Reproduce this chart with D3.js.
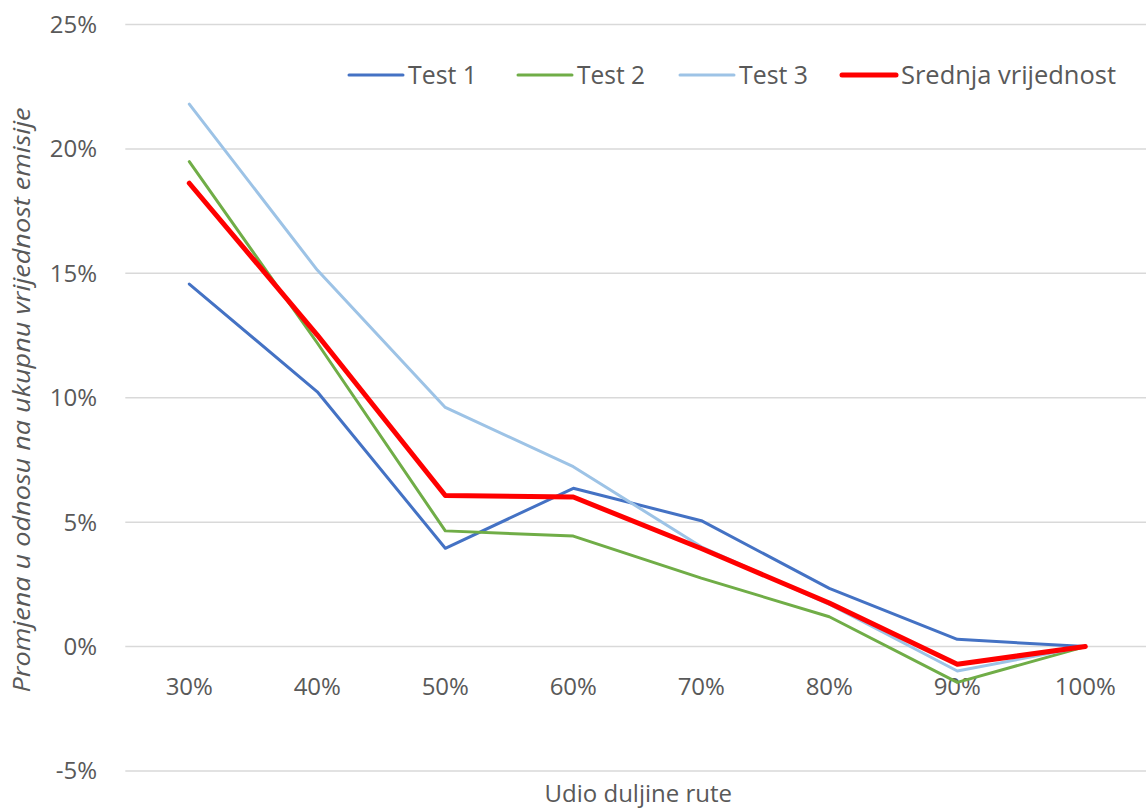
<!DOCTYPE html>
<html>
<head>
<meta charset="utf-8">
<script src="https://cdn.jsdelivr.net/npm/d3@7"></script>
<style>
  html, body { margin: 0; padding: 0; background: #fff; }
  svg { display: block; }
</style>
</head>
<body>
<div id="chart"></div>
<script>
// ---- data ----
const categories = ["30%", "40%", "50%", "60%", "70%", "80%", "90%", "100%"];
const test1 = [14.57, 10.24, 3.95, 6.36, 5.06, 2.34, 0.29, 0];
const test2 = [19.49, 12.2, 4.65, 4.44, 2.75, 1.2, -1.44, 0];
const test3 = [21.8, 15.13, 9.61, 7.23, 4.01, 1.7, -0.98, 0];
const mean  = [18.62, 12.52, 6.07, 6.01, 3.94, 1.75, -0.71, 0];
const seriesNames = ["Test 1", "Test 2", "Test 3", "Srednja vrijednost"];
const yTicks = [-5, 0, 5, 10, 15, 20, 25];
const xTitle = "Udio duljine rute";
const yTitle = "Promjena u odnosu na ukupnu vrijednost emisije";

// ---- styling ----
const W = 1146, H = 809;
const colors = ["#4472C4", "#70AD47", "#9DC3E6", "#FF0000"];
const widths = [3, 3, 3, 5];

const svg = d3.select("#chart").append("svg")
  .attr("width", W).attr("height", H);

const x = d3.scaleBand().domain(categories).range([125.3, 1149.3]);
const y = d3.scaleLinear().domain([-5, 25]).range([771, 24.5]);
const cx = c => x(c) + x.bandwidth() / 2;

// gridlines
svg.append("g").selectAll("line").data(yTicks).join("line")
  .attr("x1", x.range()[0]).attr("x2", x.range()[1])
  .attr("y1", d => y(d)).attr("y2", d => y(d))
  .attr("stroke", "#D9D9D9").attr("stroke-width", 1.5);

// y tick labels
svg.append("g").selectAll("text").data(yTicks).join("text")
  .attr("x", 97).attr("y", d => y(d))
  .attr("dy", "0.35em")
  .attr("text-anchor", "end")
  .attr("font-family", "'Open Sans', sans-serif")
  .attr("font-size", 24)
  .attr("fill", "#595959")
  .text(d => d + "%");

// x tick labels
svg.append("g").selectAll("text").data(categories).join("text")
  .attr("x", d => cx(d)).attr("y", 695)
  .attr("text-anchor", "middle")
  .attr("font-family", "'Open Sans', sans-serif")
  .attr("font-size", 24)
  .attr("fill", "#595959")
  .text(d => d);

// axis titles
svg.append("text")
  .attr("x", (x.range()[0] + x.range()[1]) / 2 + 1).attr("y", 802)
  .attr("text-anchor", "middle")
  .attr("font-family", "'Open Sans', sans-serif")
  .attr("font-size", 24)
  .attr("fill", "#595959")
  .text(xTitle);

svg.append("text")
  .attr("transform", "translate(30,400) rotate(-90)")
  .attr("text-anchor", "middle")
  .attr("font-family", "'Open Sans', sans-serif")
  .attr("font-style", "italic")
  .attr("font-size", 24)
  .attr("fill", "#595959")
  .attr("textLength", 585)
  .attr("lengthAdjust", "spacingAndGlyphs")
  .text(yTitle);

// lines
const allSeries = [test1, test2, test3, mean];
const line = d3.line()
  .x((d, i) => cx(categories[i]))
  .y(d => y(d));

svg.append("g").selectAll("path").data(allSeries).join("path")
  .attr("d", d => line(d))
  .attr("fill", "none")
  .attr("stroke", (d, i) => colors[i])
  .attr("stroke-width", (d, i) => widths[i])
  .attr("stroke-linejoin", "round")
  .attr("stroke-linecap", "round");

// legend
const legStarts = [349, 518, 680, 842];
const legTextLen = [69, 68, 69, 215];
const legY = 75;
const leg = svg.append("g").selectAll("g").data(seriesNames).join("g")
  .attr("transform", (d, i) => `translate(${legStarts[i]},${legY})`);
leg.append("line")
  .attr("x1", 0).attr("x2", 54).attr("y1", 0).attr("y2", 0)
  .attr("stroke", (d, i) => colors[i])
  .attr("stroke-width", (d, i) => widths[i])
  .attr("stroke-linecap", "round");
leg.append("text")
  .attr("x", 59).attr("y", 9)
  .attr("font-family", "'Open Sans', sans-serif")
  .attr("font-size", 26)
  .attr("fill", "#595959")
  .attr("textLength", (d, i) => legTextLen[i])
  .attr("lengthAdjust", "spacingAndGlyphs")
  .text(d => d);
</script>
</body>
</html>
